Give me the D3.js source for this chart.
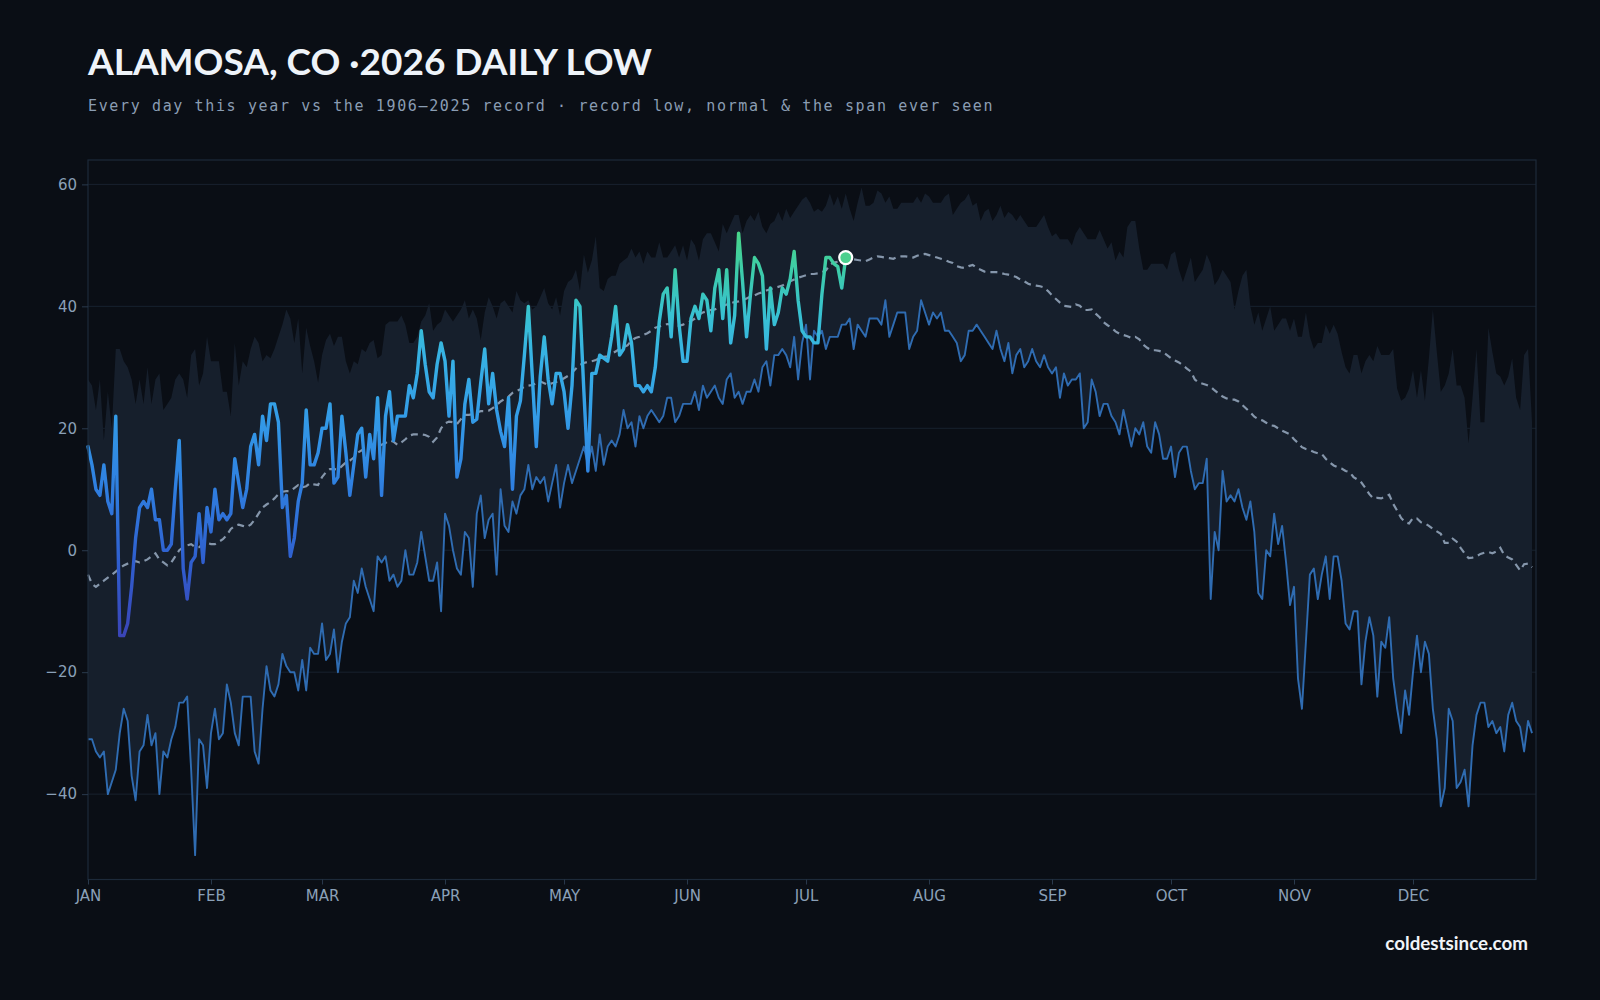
<!DOCTYPE html>
<html>
<head>
<meta charset="utf-8">
<script src="https://cdn.jsdelivr.net/npm/d3@7"></script>
<style>
  html, body { margin: 0; padding: 0; background: #0a0e15; }
  svg { display: block; }
</style>
</head>
<body>
<svg id="chart"></svg>
<script>
// Alamosa daily low temperatures (deg F), index 0 = Jan 1

var monthLabels = ["JAN", "FEB", "MAR", "APR", "MAY", "JUN", "JUL", "AUG", "SEP", "OCT", "NOV", "DEC"];
var yTicks = [-40, -20, 0, 20, 40, 60];

// record low of the daily low, 1906-2025
var recordLow = [
  -31,-31,-33,-34,-33,-40,-38,-36,-30,-26,
  -28,-37,-41,-33,-32,-27,-32,-30,-40,-33,
  -34,-31,-29,-25,-25,-24,-36,-50,-31,-32,
  -39,-30,-26,-31,-30,-22,-25,-30,-32,-24,
  -24,-24,-33,-35,-26,-19,-23,-24,-22,-17,
  -19,-20,-20,-23,-18,-23,-16,-17,-17,-12,
  -18,-17,-13,-20,-15,-12,-11,-5,-7,-3,
  -6,-8,-10,-1,-2,-1,-5,-4,-6,-5,
  0,-4,-4,-2,3,-1,-5,-5,-2,-10,
  6,4,0,-3,-4,3,2,-6,6,9,
  2,5,6,-4,10,4,3,8,6,9,
  10,14,10,12,11,12,8,11,14,7,
  11,14,11,13,15,17,14,17,13,19,
  14,17,18,17,19,23,20,21,17,22,
  20,22,23,22,21,22,25,25,21,22,
  24,24,24,26,23,27,25,26,27,25,
  24,28,29,25,26,24,26,26,28,26,
  30,31,27,32,32,33,32,30,35,28,
  34,37,28,36,35,36,33,35,35,35,
  37,37,38,33,37,36,35,38,38,38,
  37,41,35,37,39,39,39,33,35,36,
  41,39,37,39,38,39,36,36,35,34,
  31,32,36,36,37,36,35,34,33,36,
  33,31,34,29,32,33,30,31,33,31,
  30,32,30,29,30,25,29,27,28,28,
  29,20,21,28,26,22,24,24,22,21,
  19,23,20,17,20,19,21,17,16,21,
  19,15,15,17,12,16,17,17,13,10,
  11,11,15,-8,3,0,13,8,9,8,
  10,7,5,8,3,-7,-8,0,-1,6,
  1,4,-2,-9,-6,-21,-26,-15,-4,-3,
  -8,-4,-1,-8,-1,-1,-5,-12,-13,-10,
  -10,-22,-15,-11,-14,-24,-15,-16,-11,-21,
  -26,-30,-23,-27,-20,-14,-20,-15,-17,-26,
  -31,-42,-39,-26,-28,-39,-38,-36,-42,-32,
  -27,-25,-25,-29,-28,-30,-29,-33,-27,-25,
  -28,-29,-33,-28,-30
];

// warmest daily low ever seen (top of the span)
var recordHigh = [
  28,27,23,28,18,26,20,33,33,31,
  30,28,24,28,24,30,24,28,29,23,
  24,25,28,29,28,25,32,33,27,29,
  35,31,31,31,26,26,22,34,27,31,
  30,33,35,34,31,32,31.5,33,35,37,
  39.5,38,34,38,29,36.5,33.5,31,27.5,32,
  34.5,35.5,33.5,35,35,31,29,31,30.5,33,
  32.5,34,34.5,31.5,32,37,37.5,37.5,37.5,38.5,
  37,34,34,35,37.5,38.5,40.5,36,37,37.5,
  39.5,38.5,37.5,38.5,39.5,41,38,39.5,38,34.5,
  39,41.5,40,38,40.5,41,40,39,42.5,41,
  40.5,41,39.5,40,41.5,43,40.5,39.5,41.5,38.5,
  42.5,44,44.5,46,42.5,48.5,45.5,47.5,51.5,43,
  42.5,44.5,45,45,47,47.5,48,49.5,48,49,
  47,49,48,48,50.5,48,48,49,50,48,
  50,47.5,51,50,47.5,51,52,52,50.5,49,
  53.5,52,53.5,55,55,52,54,55,54,55.5,
  53,52,53.5,54,55.5,54,56,54.5,55.5,56.5,
  57.5,58,57,55.5,56,55.5,56.5,58.5,56.5,58,
  56,58.5,56,54,57,59.5,56.5,56.5,57,59,
  58.5,57,58,56,56,57,57,57,57,58,
  57,58.5,58,57,57,57,58,58.5,55,56,
  57,57.5,58.5,56.5,57,54,55.5,56,54,55,
  56.5,54.5,55.5,55,54,55,54,53,53,53,
  54,55,53,51.5,52,51,51,51,50,52,
  53,52,51,51,51,52.5,51,49.5,50.5,47.5,
  49,48,53,54,54,49.5,46,46,47,47,
  47,47,46,48.5,49,46,44,46,48,44,
  45,46,48.5,47,43.5,44.5,46,45,44,39.5,
  42.5,45,46,40,37,39,36,38,40,36,
  37,38,38,36,38,35,35,39,35,33,
  34,34,37,35.5,37,35.5,32.5,30,29,32,
  32,29,31,32,31,33.5,32,32,32,33,
  26.5,24.5,25,26.5,29.5,25,29.5,24.5,31.5,39.5,
  32.5,26,27,29,33,27,27,25,17.5,25,
  33,21,21,36.5,32.5,29,28.5,27,28.5,31.5,
  25,23,32,33,21
];

// normal daily low
var normalLow = [
  -4,-5.5,-6,-5.5,-5,-4.5,-4,-3.5,-3,-2.5,
  -2.2,-2,-1.8,-2,-1.8,-1.5,-1,-0.5,-1.5,-2,
  -2.5,-2,-1,0,0.5,0.8,1,0.5,0.5,1,
  1.2,1,1,1.4,1.8,2.5,3.5,4,4.2,4,
  3.8,4.2,5,6,7,7.5,7.9,8.5,9.2,9.6,
  9.7,9.7,10.2,10.7,10.3,10.5,11,10.8,10.7,12,
  12.8,13.3,13.3,13.2,13.8,14.4,14.7,15.2,16,16.4,
  16.7,17,17,17,17.3,17.6,18,17.8,17.3,17.7,
  18.2,18.8,19,19,19,18.9,18.6,17.8,18.5,20,
  20.8,21.1,21,20.7,21.5,22.2,22.2,22.3,22.6,22.8,
  22.8,22.9,23.3,23.8,24.4,24.8,25.2,25.8,26.1,26.4,
  26.8,27,27.1,27.4,27.7,27.4,27.1,27.4,27.6,27.8,
  28.2,28.6,29.1,29.8,30.4,30.7,30.9,31,31.2,31.5,
  31.7,31.8,32.2,32.6,33,33.3,33.6,34.4,34.8,35,
  35.3,35.6,36,36.5,36.7,36.9,37.1,37,36.9,36.8,
  37,37.3,37.6,38,38.6,39,39.2,39.4,39.5,39.8,
  40,40.3,40.5,40.7,40.8,41,41.3,41.6,41.8,42.1,
  42.3,42.6,42.8,43,43.2,43.4,43.8,44.1,44.4,44.7,
  44.9,45.1,45.3,45.3,45.4,45.6,45.9,46.8,47.2,47.3,
  47.5,47.6,47.8,47.7,47.6,47.5,47.4,47.7,48,48.2,
  48.1,48,47.9,47.8,48.1,48.2,48.2,48.1,48,48.3,
  48.5,48.6,48.4,48.2,48,47.8,47.6,47.3,47.1,46.6,
  46.4,46.3,46.6,46.8,46.3,46,45.7,45.6,45.6,45.6,
  45.5,45.3,45.2,45,44.8,44.4,44.1,43.7,43.5,43.4,
  43.3,43.1,42.5,41.8,41.2,40.6,40.1,40,39.9,40.3,
  40.1,39.4,39.4,39.5,38.8,38.2,37.4,36.9,36.5,35.9,
  35.5,35.3,35.1,34.8,35,34.6,33.7,33.2,32.8,32.8,
  32.7,32.5,32,31.5,31.1,30.8,30.3,29.8,29.3,28,
  27.5,27.3,27.1,26.8,26.2,25.7,25.2,24.9,24.7,24.7,
  24.4,23.8,23.2,22.6,21.9,21.5,21.3,20.9,20.5,20.4,
  20,19.6,19.3,19,18.2,17.6,16.9,16.6,16.4,16.1,
  15.9,15.8,15,14.4,13.9,13.6,13.4,13,12.8,12,
  11.6,11.1,10.2,9.2,8.5,8.6,8.5,8.8,9.1,7.6,
  6.5,5.3,4.6,4.4,5.3,5.2,4.6,4.4,4,3.5,
  3.1,2.7,1.2,1.2,1.9,1.4,0.4,-0.5,-1.3,-1.2,
  -1,-0.6,-0.4,-0.3,-0.5,-0.2,0.4,-0.8,-1.2,-1.5,
  -2.4,-3.3,-2.3,-2.2,-2.8
];

// 2026 observed daily low, Jan 1 - Jul 11
var lows2026 = [
  17,14,10,9,14,8,6,22,-14,-14,
  -12,-6,2,7,8,7,10,5,5,0,
  0,1,10,18,-3,-8,-2,-1,6,-2,
  7,3,10,5,6,5,6,15,11,7,
  10,17,19,14,22,18,24,24,21,7,
  9,-1,2,8,11,23,14,14,16,20,
  20,24,11,12,22,16,9,14,19,20,
  12,19,15,25,9,22,26,18,22,22,
  22,27,25,29,36,30.5,26,25,30.5,34,
  31,22,31,12,15,24,28,21,21.5,27.5,
  33,24,29,23,19.5,17,25,10,22,24.5,
  32,40,28.5,17,28.5,35,28,24,29,29,
  26,20,27,41,40,26,13,29,29,32,
  31.5,31,35,40,32,33,37,34,27,27,
  26,27,26,30,37.5,42,43,35,46,37,
  31,31,38,40,38,42,41,36,43,46,
  38,46,34,38.5,52,44,35,42,48,47,
  45,33,43,37,39,43,42,44.5,49,41,
  36,35,35,34,34,42,48,48,47,46.5,
  43,48
];

var W = 1600, H = 1000;
var plot = { left: 88, right: 1536, top: 160, bottom: 879.5 };
var startDate = new Date(2026, 0, 1);
function dayDate(i) { return d3.timeDay.offset(startDate, i); }

var svg = d3.select("#chart").attr("width", W).attr("height", H);
svg.append("rect").attr("width", W).attr("height", H).attr("fill", "#0a0e15");

var x = d3.scaleTime()
    .domain([startDate, new Date(2027, 0, 1)])
    .range([plot.left, plot.right]);
var y = d3.scaleLinear().domain([-54, 64]).range([plot.bottom, plot.top]);

// gradient for the 2026 line, coloured by temperature
var defs = svg.append("defs");
var grad = defs.append("linearGradient")
    .attr("id", "tempGrad")
    .attr("gradientUnits", "userSpaceOnUse")
    .attr("x1", 0).attr("x2", 0)
    .attr("y1", y(-15)).attr("y2", y(52));
[
  [0, "#3b43b6"], [0.2, "#2f5fcf"], [0.38, "#2f7fe0"], [0.55, "#339be7"],
  [0.7, "#37b2e4"], [0.8, "#38c1d2"], [0.9, "#3ccbac"], [1, "#48d68a"]
].forEach(function(s) {
  grad.append("stop").attr("offset", s[0]).attr("stop-color", s[1]);
});

// grid lines
svg.append("g").selectAll("line")
    .data(yTicks)
    .enter().append("line")
    .attr("x1", plot.left).attr("x2", plot.right)
    .attr("y1", function(d) { return y(d); })
    .attr("y2", function(d) { return y(d); })
    .attr("stroke", "#18222f")
    .attr("stroke-width", 1);

// span ever seen
var band = d3.area()
    .x(function(d, i) { return x(dayDate(i)); })
    .y0(function(d, i) { return y(recordLow[i]); })
    .y1(function(d) { return y(d); });
svg.append("path")
    .datum(recordHigh)
    .attr("d", band)
    .attr("fill", "#161f2c");

var line = d3.line()
    .x(function(d, i) { return x(dayDate(i)); })
    .y(function(d) { return y(d); });

// record low
svg.append("path")
    .datum(recordLow)
    .attr("d", line)
    .attr("fill", "none")
    .attr("stroke", "#2f6cb2")
    .attr("stroke-width", 1.9)
    .attr("stroke-linejoin", "round");

// normal
svg.append("path")
    .datum(normalLow)
    .attr("d", line)
    .attr("fill", "none")
    .attr("stroke", "#8596ab")
    .attr("stroke-width", 2.2)
    .attr("stroke-dasharray", "7,5");

// this year
svg.append("path")
    .datum(lows2026)
    .attr("d", line)
    .attr("fill", "none")
    .attr("stroke", "url(#tempGrad)")
    .attr("stroke-width", 3.4)
    .attr("stroke-linejoin", "round")
    .attr("stroke-linecap", "round");

var last = lows2026.length - 1;
svg.append("circle")
    .attr("cx", x(dayDate(last)))
    .attr("cy", y(lows2026[last]))
    .attr("r", 6.5)
    .attr("fill", "#4cd08e")
    .attr("stroke", "#ffffff")
    .attr("stroke-width", 2.2);

// frame
svg.append("rect")
    .attr("x", plot.left).attr("y", plot.top)
    .attr("width", plot.right - plot.left)
    .attr("height", plot.bottom - plot.top)
    .attr("fill", "none")
    .attr("stroke", "#1d2a3a")
    .attr("stroke-width", 1.2);

// axes
var yAxis = d3.axisLeft(y).tickValues(yTicks).tickSize(6).tickPadding(5);
var gy = svg.append("g")
    .attr("transform", "translate(" + plot.left + ",0)")
    .call(yAxis);
gy.select(".domain").remove();
gy.attr("font-family", "'DejaVu Sans', sans-serif").attr("font-size", 15);
gy.selectAll(".tick line").attr("stroke", "#2a3a4d");
gy.selectAll(".tick text").attr("fill", "#8aa0b8");

var monthDates = monthLabels.map(function(m, i) { return new Date(2026, i, 1); });
var xAxis = d3.axisBottom(x)
    .tickValues(monthDates)
    .tickSize(5)
    .tickPadding(6)
    .tickFormat(function(d) { return monthLabels[d.getMonth()]; });
var gx = svg.append("g")
    .attr("transform", "translate(0," + plot.bottom + ")")
    .call(xAxis);
gx.select(".domain").remove();
gx.attr("font-family", "'DejaVu Sans', sans-serif").attr("font-size", 15);
gx.selectAll(".tick line").attr("stroke", "#2a3a4d");
gx.selectAll(".tick text").attr("fill", "#8aa0b8");

// titles
svg.append("text")
    .attr("x", 88).attr("y", 75)
    .attr("fill", "#eef3f9")
    .attr("font-family", "Lato, 'Noto Sans', sans-serif")
    .attr("font-weight", 700)
    .attr("font-size", 37)
    .text("ALAMOSA, CO \u00b72026 DAILY LOW");

svg.append("text")
    .attr("x", 88).attr("y", 111)
    .attr("fill", "#8a9db3")
    .attr("font-family", "'DejaVu Sans Mono', monospace")
    .attr("font-size", 15)
    .attr("letter-spacing", 1.63)
    .text("Every day this year vs the 1906\u20132025 record \u00b7 record low, normal & the span ever seen");

svg.append("text")
    .attr("x", 1528).attr("y", 950)
    .attr("text-anchor", "end")
    .attr("fill", "#f0f4f8")
    .attr("font-family", "Lato, 'Noto Sans', sans-serif")
    .attr("font-weight", 700)
    .attr("font-size", 18.8)
    .text("coldestsince.com");
</script>
</body>
</html>
